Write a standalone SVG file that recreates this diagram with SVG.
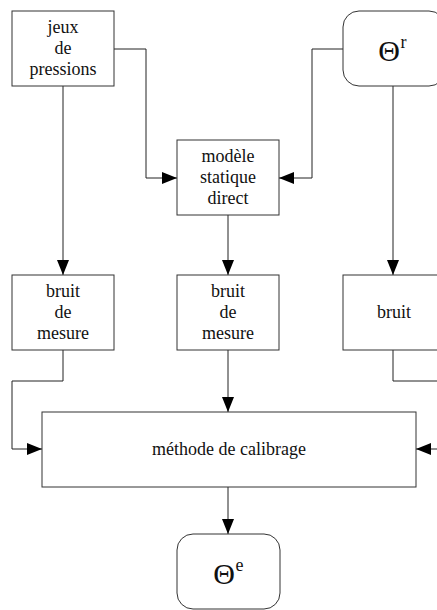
<svg xmlns="http://www.w3.org/2000/svg" width="437" height="610" viewBox="0 0 437 610">
<style>
.box{fill:#fff;stroke:#333;stroke-width:1}
.ln{fill:none;stroke:#222;stroke-width:1}
.t{font-size:18px;fill:#111;text-anchor:middle}
.th{font-size:30px}
.sup{font-size:18px;text-anchor:start}
</style>
<defs>
<marker id="ah" markerUnits="userSpaceOnUse" markerWidth="16" markerHeight="12" refX="15" refY="6" orient="auto">
<path d="M0,0 L15,6 L0,12 z" fill="#000"/>
</marker>
</defs>
<rect width="437" height="610" fill="#fff"/>
<g id="connectors">
<path class="ln" d="M114,49 H146 V178 H177" marker-end="url(#ah)"/>
<path class="ln" d="M343,49 H312 V178 H279" marker-end="url(#ah)"/>
<path class="ln" d="M63,86 V275" marker-end="url(#ah)"/>
<path class="ln" d="M228,215 V275" marker-end="url(#ah)"/>
<path class="ln" d="M393,86 V275" marker-end="url(#ah)"/>
<path class="ln" d="M63,350 V381 H12 V449 H42" marker-end="url(#ah)"/>
<path class="ln" d="M393,350 V381 H460"/>
<path class="ln" d="M460,449 H416" marker-end="url(#ah)"/>
<path class="ln" d="M228,350 V412" marker-end="url(#ah)"/>
<path class="ln" d="M228,487 V534" marker-end="url(#ah)"/>
</g>
<g font-family="'Liberation Serif', 'Times New Roman', 'DejaVu Serif', serif">
<g id="jeux">
<rect class="box" x="12" y="11" width="102" height="75"/>
<text class="t" x="63" y="33">jeux</text>
<text class="t" x="63" y="54">de</text>
<text class="t" x="63" y="75">pressions</text>
</g>
<g id="theta_r">
<rect class="box" x="343" y="11" width="102" height="75" rx="16"/>
<text class="t th" x="389" y="61">Θ</text>
<text class="t sup" x="400.5" y="48">r</text>
</g>
<g id="modele">
<rect class="box" x="177" y="140" width="102" height="75"/>
<text class="t" x="228" y="162">modèle</text>
<text class="t" x="228" y="183">statique</text>
<text class="t" x="228" y="204">direct</text>
</g>
<g id="bruit1">
<rect class="box" x="12" y="275" width="102" height="75"/>
<text class="t" x="63" y="297">bruit</text>
<text class="t" x="63" y="318">de</text>
<text class="t" x="63" y="339">mesure</text>
</g>
<g id="bruit2">
<rect class="box" x="177" y="275" width="102" height="75"/>
<text class="t" x="228" y="297">bruit</text>
<text class="t" x="228" y="318">de</text>
<text class="t" x="228" y="339">mesure</text>
</g>
<g id="bruit3">
<rect class="box" x="343" y="275" width="102" height="75"/>
<text class="t" x="394" y="318">bruit</text>
</g>
<g id="calibrage">
<rect class="box" x="42" y="412" width="374" height="75"/>
<text class="t" x="229" y="455">méthode de calibrage</text>
</g>
<g id="theta_e">
<rect class="box" x="177" y="534" width="103" height="75" rx="16"/>
<text class="t th" x="224" y="584">Θ</text>
<text class="t sup" x="235.5" y="571">e</text>
</g>
</g>
</svg>
